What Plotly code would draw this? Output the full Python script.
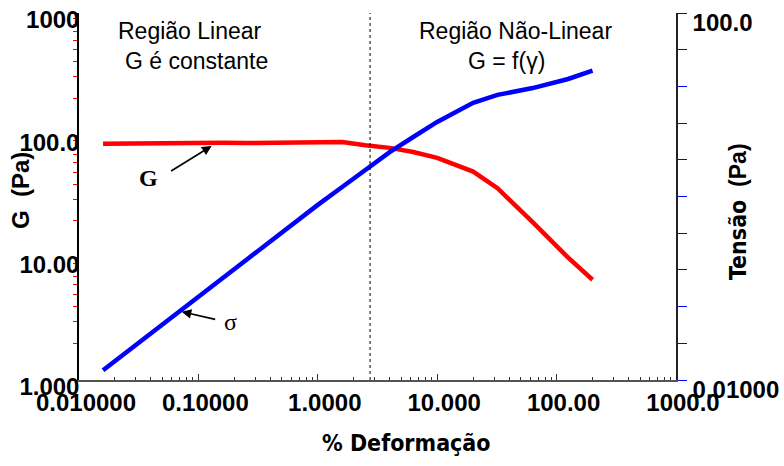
import plotly.graph_objects as go

# Strain sweep (% deformation)
strain = [0.0159, 0.025, 0.04, 0.063, 0.1, 0.16, 0.25, 0.4, 0.63, 1.0,
          1.6, 2.5, 4.0, 6.3, 10, 20, 32, 63, 125, 200]
# Storage modulus G (Pa)
modulus = [85.5, 86, 87, 87, 87, 87, 86.5, 87, 87.5, 88,
           88, 83, 79, 73, 65.5, 50.5, 37, 19.5, 10, 6.6]
# Shear stress sigma (Pa)
stress = [0.0128, 0.0202, 0.0323, 0.0509, 0.0808, 0.129, 0.202, 0.323, 0.509, 0.81,
          1.27, 1.97, 3.05, 4.45, 6.5, 10.5, 12.8, 15.2, 19.1, 23.5]

# Limit of the linear viscoelastic region (% deformation)
linear_limit = 2.74

x_ticks = [0.01, 0.1, 1, 10, 100, 1000]
x_labels = ["0.010000", "0.10000", "1.0000", "10.000", "100.00", "1000.0"]
g_ticks = [1, 10, 100, 1000]
g_labels = ["1.000", "10.00", "100.0", "1000"]
s_ticks = [round(10 ** (-2 + 0.4 * k), 6) for k in range(11)]
s_labels = ["0.01000"] + [""] * 9 + ["100.0"]


def minor_vals(lo, hi):
    return [m * 10 ** e for e in range(lo, hi) for m in range(2, 10)]


ARIAL = "Liberation Sans, Arial, sans-serif"
NARROW = "DejaVu Sans Condensed"
tick_font = dict(family=ARIAL, size=24, color="black", weight="bold")

fig = go.Figure()
fig.add_trace(go.Scatter(x=strain, y=modulus, mode="lines", name="G",
                         line=dict(color="#ff0000", width=4.5), yaxis="y"))
fig.add_trace(go.Scatter(x=strain, y=stress, mode="lines", name="σ",
                         line=dict(color="#0000ff", width=4.5), yaxis="y2"))

fig.add_shape(type="line", xref="x", yref="paper", x0=linear_limit, x1=linear_limit,
              y0=0, y1=1, line=dict(color="black", width=1, dash="dot"))

fig.update_layout(
    width=784, height=466,
    margin=dict(l=79, r=108, t=13, b=86),
    paper_bgcolor="white", plot_bgcolor="white",
    showlegend=False,
    xaxis=dict(type="log", range=[-2, 3], tickvals=x_ticks, ticktext=x_labels,
               ticks="inside", ticklen=6, tickcolor="#333", tickwidth=1,
               minor=dict(tickvals=minor_vals(-2, 3), ticks="inside", ticklen=3,
                          tickcolor="#333"),
               showline=True, linecolor="#555", linewidth=1.5, mirror=False,
               showgrid=False, zeroline=False, tickfont=tick_font,
               ticklabelshift=7, ticklabelstandoff=0, automargin=False,
               ticklabeloverflow="allow"),
    yaxis=dict(type="log", range=[0, 3], tickvals=g_ticks, ticktext=g_labels,
               ticks="outside", ticklen=7, tickcolor="#ff0000", tickwidth=1,
               minor=dict(tickvals=minor_vals(0, 3), ticks="outside", ticklen=4,
                          tickcolor="#ff0000"),
               showline=True, linecolor="black", linewidth=1.5,
               showgrid=False, zeroline=False, tickfont=tick_font,
               ticklabelstandoff=-14, ticklabelshift=7, automargin=False,
               ticklabeloverflow="allow"),
    yaxis2=dict(type="log", range=[-2, 2], overlaying="y", side="right",
                tickvals=s_ticks, ticktext=s_labels,
                ticks="outside", ticklen=9, tickcolor="#0000ff", tickwidth=1,
                showline=True, linecolor="#222", linewidth=1.5,
                showgrid=False, zeroline=False, tickfont=tick_font,
                ticklabelstandoff=1, ticklabelshift=10, automargin=False,
                ticklabeloverflow="allow"),
)

text_font = dict(family=ARIAL, size=23, color="black")
notes = [
    ("Região Linear", 190, 31),
    ("G é constante", 196, 61),
    ("Região Não-Linear", 515, 31),
    ("G = f(γ)", 506, 61),
]
for txt, px, py in notes:
    fig.add_annotation(text=txt, xref="paper", yref="paper",
                       x=(px - 79) / 597, y=1 - (py - 13) / 367,
                       xanchor="center", yanchor="middle", showarrow=False,
                       font=text_font)

# Curve labels with pointer arrows
fig.add_annotation(x=-0.889, y=1.913, xref="x", yref="y", text="", showarrow=True,
                   ax=-42, ay=26, arrowhead=2, arrowsize=1.2, arrowwidth=1.6,
                   arrowcolor="black")
fig.add_annotation(x=-1.422, y=1.651, xref="x", yref="y", text="<b>G</b>",
                   showarrow=False,
                   font=dict(family="Liberation Serif, Times New Roman, serif",
                             size=24, color="black"))
fig.add_annotation(x=-1.140, y=-1.256, xref="x", yref="y2", text="", showarrow=True,
                   ax=35, ay=8, arrowhead=2, arrowsize=1.2, arrowwidth=1.6,
                   arrowcolor="black")
fig.add_annotation(x=-0.735, y=-1.368, xref="x", yref="y2", text="σ",
                   showarrow=False,
                   font=dict(family="Liberation Serif, Times New Roman, serif",
                             size=24, color="black"))

# Axis titles
fig.add_annotation(text="<b>G\u00a0\u00a0(Pa)</b>", xref="paper", yref="paper",
                   x=(20 - 79) / 597, y=1 - (191 - 13) / 367, textangle=-90,
                   showarrow=False, xanchor="center", yanchor="middle",
                   font=dict(family=ARIAL, size=24, color="black"))
fig.add_annotation(
    text=("<span style='font-family:" + NARROW + "'><b>Tensão</b></span>"
          "\u00a0\u00a0<b>(Pa)</b>"),
    xref="paper", yref="paper",
    x=(738 - 79) / 597, y=1 - (212 - 13) / 367, textangle=-90,
    showarrow=False, xanchor="center", yanchor="middle",
    font=dict(family=ARIAL, size=23, color="black"))
fig.add_annotation(text="<b>% Deformação</b>", xref="paper", yref="paper",
                   x=(406 - 79) / 597, y=1 - (443 - 13) / 367,
                   showarrow=False, xanchor="center", yanchor="middle",
                   font=dict(family=NARROW, size=23, color="black"))

fig.write_html("out.html")
